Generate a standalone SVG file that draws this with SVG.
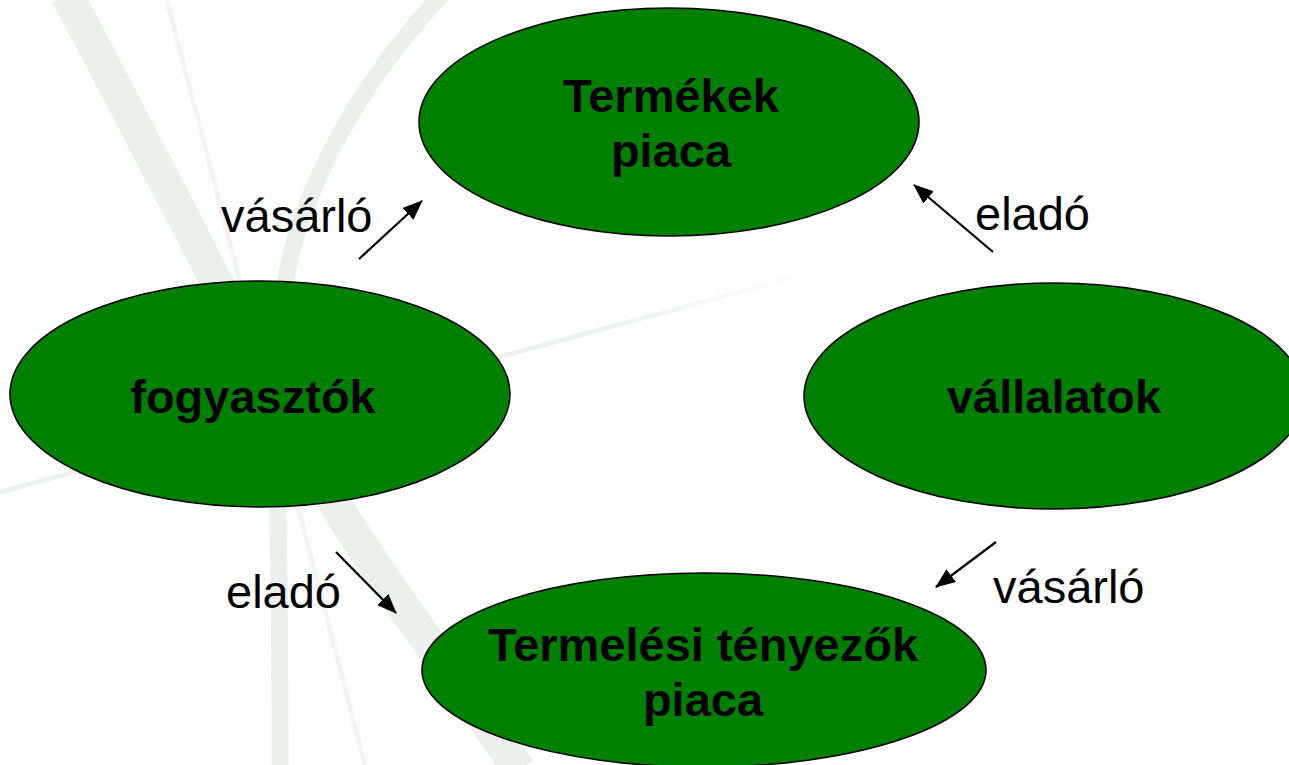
<svg xmlns="http://www.w3.org/2000/svg" width="1289" height="765" viewBox="0 0 1289 765">
  <style>
    .node { fill: #008000; stroke: #000; stroke-width: 1.6; }
    .ntext { font-family: "Liberation Sans", Arial, sans-serif; font-weight: bold; font-size: 47px; fill: #000; text-anchor: middle; }
    .ltext { font-family: "Liberation Sans", Arial, sans-serif; font-size: 47px; fill: #000; }
    .conn { stroke: #000; stroke-width: 2.2; fill: none; marker-end: url(#arrow); }
    .swoosh { fill: none; stroke-linecap: butt; }
  </style>
  <defs>
    <marker id="arrow" markerUnits="userSpaceOnUse" markerWidth="20" markerHeight="16" viewBox="0 0 20 16" refX="19" refY="8" orient="auto">
      <path d="M0,0 L20,8 L0,16 Z" fill="#000"/>
    </marker>
    <linearGradient id="hfade" gradientUnits="userSpaceOnUse" x1="0" y1="492" x2="832" y2="267">
      <stop offset="0" stop-color="#eef1ef"/>
      <stop offset="0.7" stop-color="#eef1ef"/>
      <stop offset="1" stop-color="#ffffff"/>
    </linearGradient>
  </defs>
  <rect width="1289" height="765" fill="#ffffff"/>
  <g id="background">
    <path class="swoosh" d="M67,-5 C120,95 170,190 215,280 C260,365 300,440 337,507 C370,560 405,610 470,700 L520,770" stroke="#ebf0ec" stroke-width="33"/>
    <path class="swoosh" d="M167,0 L365,765" stroke="#f2f5f3" stroke-width="5"/>
    <path class="swoosh" d="M442,-5 C380,60 320,150 292,250 C272,330 276,450 278,520 C280,620 280,700 280,770" stroke="#ebf0ec" stroke-width="17"/>
    <path class="swoosh" d="M0,492 C300,412 560,340 832,267" stroke="url(#hfade)" stroke-width="5"/>
  </g>
  <g id="connectors">
    <line class="conn" x1="359" y1="259" x2="422" y2="201"/>
    <line class="conn" x1="993" y1="252" x2="914" y2="185"/>
    <line class="conn" x1="336" y1="552" x2="396" y2="613"/>
    <line class="conn" x1="996" y1="542" x2="936" y2="587"/>
  </g>
  <g id="node-termekek">
    <ellipse class="node" cx="669" cy="122" rx="250" ry="114"/>
    <text class="ntext" x="671" y="112">Termékek</text>
    <text class="ntext" x="671" y="167">piaca</text>
  </g>
  <g id="node-fogyasztok">
    <ellipse class="node" cx="260" cy="394" rx="250" ry="113"/>
    <text class="ntext" x="253" y="413">fogyasztók</text>
  </g>
  <g id="node-vallalatok">
    <ellipse class="node" cx="1054" cy="396" rx="250" ry="113"/>
    <text class="ntext" x="1054" y="413">vállalatok</text>
  </g>
  <g id="node-termelesi">
    <ellipse class="node" cx="704" cy="670" rx="282" ry="97"/>
    <text class="ntext" x="703" y="661">Termelési tényezők</text>
    <text class="ntext" x="703" y="716">piaca</text>
  </g>
  <g id="labels">
    <text class="ltext" x="221" y="232">vásárló</text>
    <text class="ltext" x="975" y="230">eladó</text>
    <text class="ltext" x="226" y="608">eladó</text>
    <text class="ltext" x="993" y="603">vásárló</text>
  </g>
</svg>
